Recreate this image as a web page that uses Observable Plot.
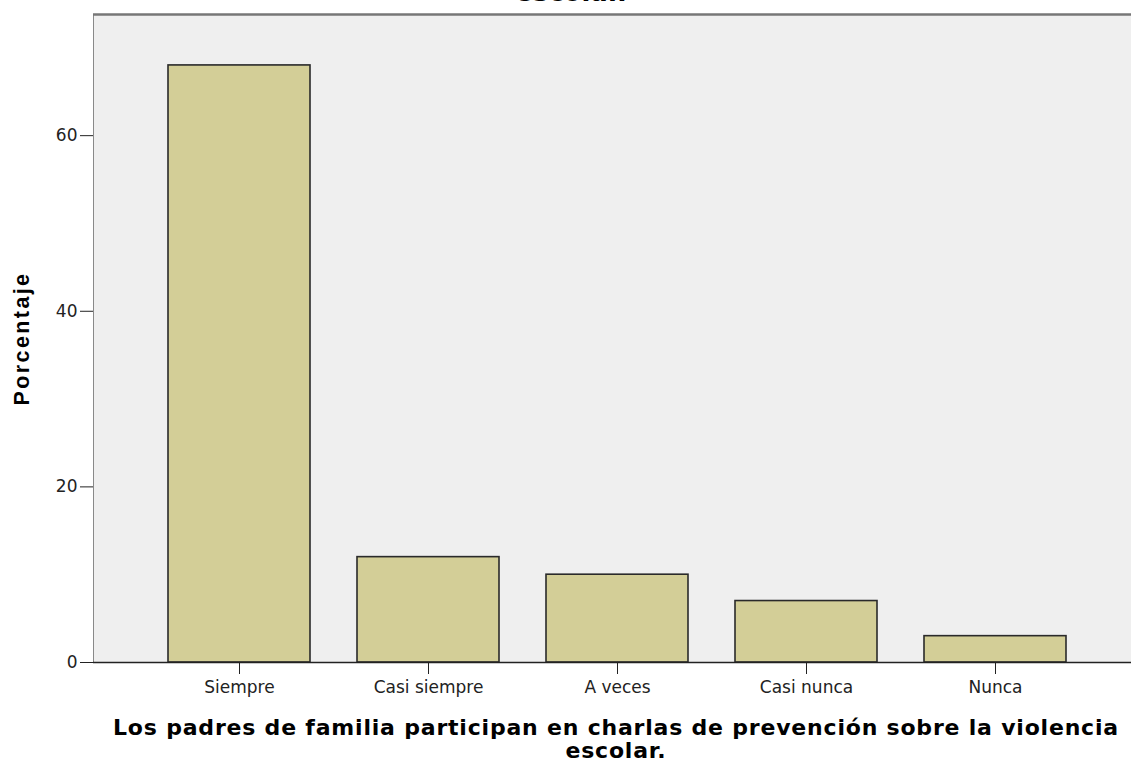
<!DOCTYPE html>
<html>
<head>
<meta charset="utf-8">
<script src="https://cdn.jsdelivr.net/npm/d3@7"></script>
<script src="https://cdn.jsdelivr.net/npm/@observablehq/plot@0.6"></script>
<style>
  html, body { margin: 0; padding: 0; background: #fff; overflow: hidden; }
  #wrap { position: relative; width: 1131px; height: 762px; overflow: hidden; }
  #chart { position: absolute; left: 0; top: 0; }
  .title { position: absolute; font-family: "DejaVu Sans", sans-serif; font-weight: bold; color: #000; white-space: nowrap; text-align: center; }
  .ytitle text { letter-spacing: 2.4px; }
</style>
</head>
<body>
<div id="wrap">
  <div id="chart"></div>
  <div class="title" id="toptitle" style="left:371px; width:400px; top:-20px; font-size:26px; line-height:25px;"></div>
  <div class="title" id="xtitle" style="left:0px; width:1232px; top:716px; font-size:22px; line-height:23px; letter-spacing:0.8px;"></div>
</div>
<script>
const categories = ["Siempre", "Casi siempre", "A veces", "Casi nunca", "Nunca"];
const percentages = [68, 12, 10, 7, 3];
const yTicks = [0, 20, 40, 60];
const yTitle = "Porcentaje";
const xTitleLines = ["Los padres de familia participan en charlas de prevención sobre la violencia", "escolar."];
const topTitleFragment = "escolar.";

const data = categories.map((c, i) => ({cat: c, pct: percentages[i]}));
const yMax = 73.8;

const chart = Plot.plot({
  width: 1131,
  height: 700,
  marginLeft: 93,
  marginRight: 0,
  marginTop: 14,
  marginBottom: 38,
  style: {fontFamily: "DejaVu Sans, sans-serif", fontSize: "17px", color: "#222", background: "transparent"},
  x: {domain: categories, range: [144.5, 1089.5], paddingInner: 0.25, paddingOuter: 0.125, label: null, tickSize: 12, tickPadding: 6},
  y: {domain: [0, yMax], ticks: yTicks, tickSize: 13, tickPadding: 3, label: null, line: true},
  marks: [
    Plot.frame({fill: "#efefef", stroke: null}),
    Plot.barY(data, {x: "cat", y: "pct", fill: "#d3ce97", stroke: "#2a2a2a", strokeWidth: 1.6}),
    Plot.ruleY([0], {stroke: "#222", strokeWidth: 1.5}),
    Plot.ruleY([yMax], {stroke: "#777", strokeWidth: 2.5}),
    Plot.text([yTitle], {frameAnchor: "left", dx: -71, rotate: -90, textAnchor: "middle", fontWeight: "bold", fontSize: 21.5, fontFamily: "Liberation Sans, Arial, sans-serif", fill: "#000", className: "ytitle"})
  ]
});
document.getElementById("chart").appendChild(chart);
document.getElementById("toptitle").textContent = topTitleFragment;
document.getElementById("xtitle").innerHTML = xTitleLines.join("<br>");
</script>
</body>
</html>
